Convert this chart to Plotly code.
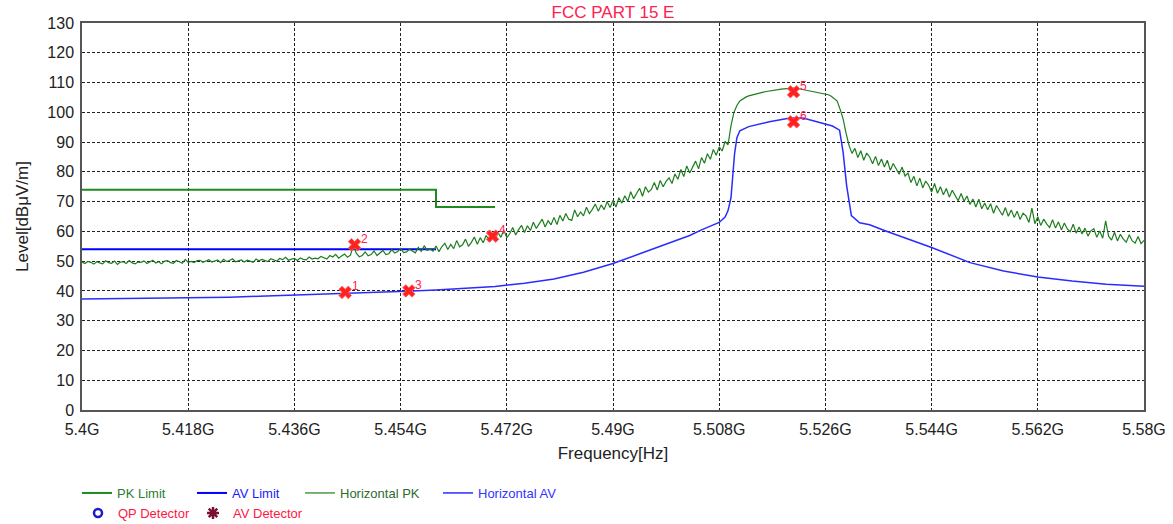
import plotly.graph_objects as go

# ---------------- data ----------------
x_ticks = [5.4, 5.418, 5.436, 5.454, 5.472, 5.49, 5.508, 5.526, 5.544, 5.562, 5.58]
x_tick_labels = ["5.4G", "5.418G", "5.436G", "5.454G", "5.472G", "5.49G",
                 "5.508G", "5.526G", "5.544G", "5.562G", "5.58G"]
y_ticks = list(range(0, 131, 10))

pk_limit_f = [5.4, 5.46, 5.46, 5.47]
pk_limit_v = [74, 74, 68.2, 68.2]
av_limit_f = [5.4, 5.46]
av_limit_v = [54, 54]

# Horizontal PK sweep: 0.5 MHz steps from 5.400 GHz to 5.580 GHz
pk_start_ghz = 5.400
pk_step_ghz = 0.0005
horizontal_pk = [
    49.7, 49.2, 49.9, 49.6, 49.0, 49.8, 49.4, 49.1, 50.1, 49.5, 49.3, 50.0, 48.9, 49.7, 49.8, 49.2, 50.2, 49.4, 49.1, 49.7,
    49.6, 50.1, 49.2, 49.9, 50.3, 49.4, 49.8, 49.1, 50.0, 50.2, 49.5, 49.3, 50.2, 49.8, 49.3, 50.6, 49.6, 49.9, 49.5, 50.2,
    50.3, 49.6, 50.1, 50.5, 49.7, 50.0, 50.4, 49.5, 50.6, 49.9, 50.2, 50.8, 49.8, 50.1, 50.4, 49.7, 50.3, 50.0, 49.6, 50.7,
    50.1, 50.6, 50.3, 49.9, 50.8, 50.4, 50.0, 50.9, 50.5, 51.3, 50.3, 50.7, 50.9, 50.2, 51.1, 50.6, 50.4, 51.4, 50.7, 51.0,
    50.8, 51.6, 51.2, 50.7, 51.9, 51.4, 52.3, 51.0, 51.7, 52.4, 51.3, 52.0, 55.4, 52.6, 51.5, 51.9, 53.1, 51.8, 52.2, 53.4,
    51.9, 52.8, 53.6, 52.2, 52.5, 53.9, 52.7, 53.2, 54.3, 52.9, 53.1, 54.0, 53.5, 52.8, 54.6, 53.3, 55.2, 53.6, 54.1, 53.4,
    55.1, 53.2, 54.9, 56.0, 53.9, 55.6, 54.2, 56.9, 54.8, 55.5, 57.4, 55.0, 56.3, 58.1, 55.7, 57.9, 56.2, 58.6, 57.2, 58.4,
    56.9, 59.6, 58.0, 60.4, 57.9, 59.2, 61.3, 58.8, 60.6, 62.0, 59.6, 61.9, 60.3, 63.1, 61.0, 62.4, 64.1, 61.5, 63.6, 62.2,
    64.7, 62.3, 65.4, 63.5, 66.0, 64.1, 63.7, 67.2, 64.9, 66.5, 65.2, 68.1, 66.0, 67.4, 69.2, 66.8, 68.9, 67.3, 70.0, 68.0,
    70.4, 68.2, 71.3, 69.5, 72.0, 70.1, 73.3, 71.0, 72.6, 74.5, 71.8, 75.0, 73.2, 74.1, 76.4, 73.9, 77.1, 75.0, 76.8, 78.0,
    76.1, 79.3, 77.5, 80.8, 78.4, 82.0, 79.6, 81.7, 83.6, 81.0, 84.8, 82.9, 86.1, 84.2, 87.5, 85.6, 88.4, 87.0, 90.2, 89.1,
    95.5, 100.0, 102.3, 103.8, 104.6, 105.1, 105.5, 105.8, 106.1, 106.3, 106.6, 106.8, 107.0, 107.1, 107.4, 107.5, 107.6, 107.8, 107.9, 108.0,
    108.1, 108.0, 108.2, 107.9, 107.7, 107.6, 107.4, 107.2, 107.0, 106.8, 106.6, 106.4, 106.2, 105.9, 105.4, 104.6, 103.8, 101.0, 97.8, 93.0,
    88.9, 86.2, 87.9, 84.8, 87.1, 83.9, 86.3, 85.0, 82.7, 85.2, 82.1, 84.3, 81.6, 83.9, 80.5, 82.8, 81.0, 79.2, 81.6, 78.6,
    79.6, 76.4, 78.5, 75.3, 77.9, 74.6, 76.9, 75.5, 73.2, 76.1, 72.8, 75.0, 72.3, 74.4, 71.5, 73.8, 72.0, 70.3, 72.7, 70.1,
    71.9, 69.0, 70.9, 68.2, 70.8, 67.6, 69.5, 67.3, 69.3, 66.1, 68.7, 67.0, 65.4, 68.0, 65.1, 67.2, 64.7, 66.8, 64.0, 66.1,
    65.2, 63.0, 67.8, 62.6, 64.9, 62.0, 64.1, 62.5, 61.3, 63.9, 61.1, 63.2, 60.5, 62.8, 60.8, 59.9, 62.4, 59.4, 61.5, 59.1,
    61.1, 58.4, 60.2, 60.9, 58.0, 60.1, 57.7, 63.5, 58.4, 57.1, 59.7, 56.8, 59.0, 57.4, 56.4, 58.9, 56.8, 56.1, 58.3, 55.9,
    57.0,
]
horizontal_pk_f = [round(pk_start_ghz + i * pk_step_ghz, 4) for i in range(len(horizontal_pk))]

horizontal_av_f = [5.400, 5.405, 5.410, 5.415, 5.420, 5.425, 5.430, 5.435, 5.440, 5.445,
                   5.450, 5.455, 5.460, 5.465, 5.470, 5.475, 5.480, 5.485, 5.490, 5.495,
                   5.500, 5.503, 5.505, 5.507, 5.508, 5.509, 5.5095, 5.510, 5.5103, 5.5106,
                   5.511, 5.5115, 5.513, 5.5165, 5.520, 5.5222, 5.5244, 5.5272, 5.5284, 5.529,
                   5.5296, 5.5304, 5.5318, 5.5335, 5.536, 5.540, 5.544, 5.5505, 5.5562, 5.562,
                   5.5678, 5.5736, 5.580]
horizontal_av = [37.3, 37.4, 37.5, 37.6, 37.8, 37.9, 38.2, 38.5, 38.9, 39.3,
                 39.6, 39.9, 40.3, 40.8, 41.5, 42.6, 44.0, 46.3, 49.2, 52.8,
                 56.3, 58.6, 60.5, 62.0, 63.0, 64.8, 67.0, 71.3, 78.0, 86.0,
                 91.5, 93.8, 95.2, 96.8, 98.1, 98.1, 96.9, 95.4, 94.0, 86.6,
                 75.4, 65.3, 62.9, 62.2, 60.3, 57.5, 54.6, 49.5, 46.7, 44.7,
                 43.3, 42.2, 41.6]

marker_ids = ["1", "2", "3", "4", "5", "6"]
marker_f = [5.4446, 5.4462, 5.4554, 5.4696, 5.5206, 5.5206]
marker_v = [39.5, 55.5, 40.0, 58.4, 106.9, 96.8]

# ---------------- figure ----------------
W, H = 1173, 524
GREEN = "#1f8a1f"
GREEN_TR = "#1e7d1e"
BLUE = "#0000ff"
BLUE_TR = "#2b2bff"
RED = "#ff2050"
FONT = "Arial, Liberation Sans, sans-serif"

fig = go.Figure()

fig.add_trace(go.Scatter(x=pk_limit_f, y=pk_limit_v, mode="lines", name="PK Limit",
                         line=dict(color=GREEN, width=2), legend="legend"))
fig.add_trace(go.Scatter(x=av_limit_f, y=av_limit_v, mode="lines", name="AV Limit",
                         line=dict(color=BLUE, width=2), legend="legend2"))
fig.add_trace(go.Scatter(x=horizontal_pk_f, y=horizontal_pk, mode="lines", name="Horizontal PK",
                         line=dict(color=GREEN_TR, width=1.2), legend="legend3"))
fig.add_trace(go.Scatter(x=horizontal_av_f, y=horizontal_av, mode="lines", name="Horizontal AV",
                         line=dict(color=BLUE_TR, width=1.5), legend="legend4"))
fig.add_trace(go.Scatter(x=[None], y=[None], mode="markers", name="QP Detector",
                         marker=dict(symbol="circle-open", size=8, color="#1a1acc",
                                     line=dict(width=2.5, color="#1a1acc")), legend="legend5"))
fig.add_trace(go.Scatter(x=[None], y=[None], mode="markers", name="AV Detector",
                         marker=dict(symbol="asterisk-open", size=10, color="#7a1030",
                                     line=dict(width=2.5, color="#7a1030")), legend="legend6"))

fig.add_trace(go.Scatter(x=marker_f, y=marker_v, mode="markers", showlegend=False,
                         marker=dict(symbol="x", size=11, color="#ff2020",
                                     line=dict(width=1, color="#ff6060"))))
for mid, mf, mv in zip(marker_ids, marker_f, marker_v):
    fig.add_annotation(x=mf, y=mv, text=mid, showarrow=False, xshift=10, yshift=6,
                       font=dict(family=FONT, size=12, color=RED))


def leg(px, py, color):
    return dict(x=px / W, y=1 - py / H, xref="container", yref="container",
                xanchor="left", yanchor="middle", orientation="h",
                bgcolor="rgba(0,0,0,0)", borderwidth=0,
                font=dict(family=FONT, size=13, color=color))


fig.update_layout(
    width=W, height=H,
    margin=dict(l=82, r=29, t=23, b=114, autoexpand=False),
    paper_bgcolor="white", plot_bgcolor="white",
    font=dict(family=FONT, size=14, color="#222"),
    title=dict(text="FCC PART 15 E", x=0.5, xref="paper", y=1 - 12 / H, yref="container",
               xanchor="center", yanchor="middle",
               font=dict(family=FONT, size=17, color=RED)),
    legend=leg(77, 493, "#2e7d32"),
    legend2=leg(192, 493, "#1a1aff"),
    legend3=leg(300, 493, "#2e6b2e"),
    legend4=leg(438, 493, "#3333ff"),
    legend5=leg(78, 513, "#ff1744"),
    legend6=leg(193, 513, "#ff1744"),
)

fig.update_xaxes(range=[5.4, 5.58], tickvals=x_ticks, ticktext=x_tick_labels,
                 showgrid=True, gridcolor="#222", griddash="3px,2px", gridwidth=1,
                 showline=True, linecolor="#555", linewidth=1.5, mirror=True,
                 zeroline=False, ticks="", ticklabelstandoff=4, automargin=False,
                 tickfont=dict(family=FONT, size=16, color="#222"),
                 title=dict(text="Frequency[Hz]", standoff=10,
                            font=dict(family=FONT, size=17, color="#222")))
fig.update_yaxes(range=[0, 130], tickvals=y_ticks,
                 showgrid=True, gridcolor="#222", griddash="3px,2px", gridwidth=1,
                 showline=True, linecolor="#555", linewidth=1.5, mirror=True,
                 zeroline=False, ticks="", ticklabelstandoff=3, automargin=False,
                 tickfont=dict(family=FONT, size=16, color="#222"),
                 title=dict(text="Level[dBμV/m]", standoff=14,
                            font=dict(family=FONT, size=17, color="#222")))

fig.write_html("out.html", config={"displayModeBar": False},
               post_script="document.body.style.margin='0';")
